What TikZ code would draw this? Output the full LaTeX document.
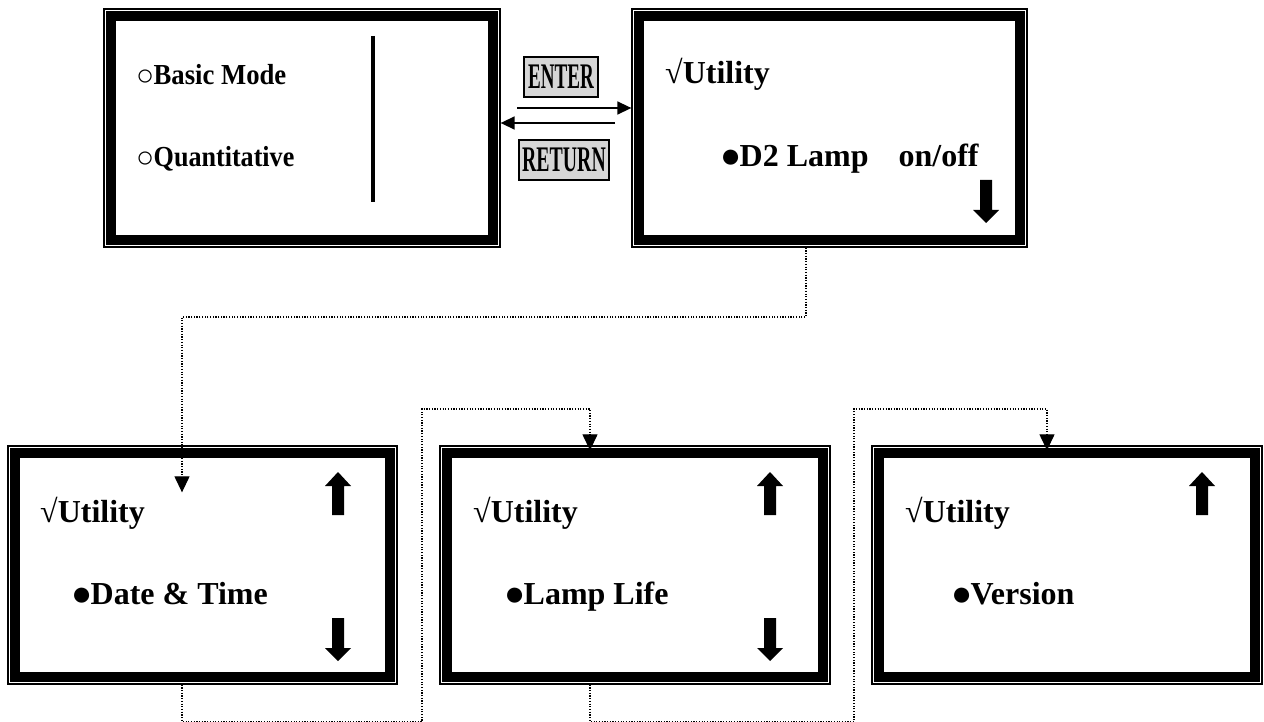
\documentclass[tikz,border=0pt]{standalone}
\usepackage{fontspec}
\setmainfont{Liberation Serif}
\usetikzlibrary{arrows.meta}
\newcommand{\UpBlk}[2]{\fill (#1,#2) -- ++(13,14) -- ++(-7,0) -- ++(0,29) -- ++(-12,0) -- ++(0,-29) -- ++(-7,0) -- cycle;}
\newcommand{\DnBlk}[2]{\fill (#1,#2) -- ++(13,-13) -- ++(-7,0) -- ++(0,-30) -- ++(-12,0) -- ++(0,30) -- ++(-7,0) -- cycle;}
\newcommand{\Bul}{\makebox[19.5pt][l]{\fontsize{35}{35}\selectfont\raisebox{-1pt}{●}}}
\newcommand{\Ring}{\makebox[17.5pt][l]{\fontsize{30}{30}\selectfont\raisebox{-1pt}{○}}}
\begin{document}
\begin{tikzpicture}[x=1pt,y=-1pt,
  screen/.style={draw, line width=1.3pt, minimum height=238pt, inner sep=0pt},
  band/.style={line width=9.5pt},
  lbl/.style={anchor=base west, inner sep=0pt, font=\bfseries\fontsize{32}{32}\selectfont},
  lblsmall/.style={anchor=base west, inner sep=0pt, font=\bfseries\fontsize{29}{29}\selectfont},
  key/.style={draw, line width=1.5pt, fill=black!16, inner sep=0pt, minimum height=40pt, font=\bfseries\fontsize{36}{36}\selectfont},
  link/.style={line width=1.5pt, -{Triangle[length=14pt,width=13pt]}},
  dotlink/.style={line width=1.2pt, dash pattern=on 1.2pt off 1.5pt, -{Triangle[length=16pt,width=15pt]}},
  ]
\useasboundingbox[fill=white] (0,0) rectangle (1264,722);

% screens
\node[screen, minimum width=396pt] (b1) at (302,128) {};
\node[screen, minimum width=395pt] (b2) at (829.5,128) {};
\node[screen, minimum width=389pt] (b3) at (202.5,565) {};
\node[screen, minimum width=390pt] (b4) at (635,565) {};
\node[screen, minimum width=390pt] (b5) at (1067,565) {};
\foreach \b in {b1,b2,b3,b4,b5}{
  \draw[band] ([shift={(7.5,7.5)}]\b.north west) rectangle ([shift={(-7.5,-7.5)}]\b.south east);
}

% screen 1
\node[lblsmall] (m1) at (136,85) {\Ring\scalebox{0.92}[1]{Basic Mode}};
\node[lblsmall] (m2) at (136,167) {\Ring\scalebox{0.9}[1]{Quantitative}};
\draw[line width=3.5pt] (373,36) -- (373,202);

% keys
\node[key, minimum width=74pt] (enter) at (561,77) {\scalebox{0.53}[1]{ENTER}};
\node[key, minimum width=90pt] (return) at (564,160) {\scalebox{0.55}[1]{RETURN}};
\coordinate (e0) at (517,108);
\coordinate (r0) at (615,123);
\draw[link] (e0) -- (e0 -| b2.west);
\draw[link] (r0) -- (r0 -| b1.east);

% screen 2
\node[lbl] (u2) at (665,84) {√Utility};
\node[lbl] (d2) at (720,167) {\Bul D2 Lamp\hspace{30pt}on/off};
\DnBlk{986}{223}

% screen 3
\node[lbl] (u3) at (40,522) {√Utility};
\node[lbl] (i3) at (71,604) {\Bul Date \& Time};
\UpBlk{338}{472}
\DnBlk{338}{661}

% screen 4
\node[lbl] (u4) at (473,522) {√Utility};
\node[lbl] (i4) at (504,604) {\Bul Lamp Life};
\UpBlk{770}{472}
\DnBlk{770}{661}

% screen 5
\node[lbl] (u5) at (905,522) {√Utility};
\node[lbl] (i5) at (951,604) {\Bul Version};
\UpBlk{1202}{472}

% dotted links
\draw[dotlink] ([xshift=-23.5pt]b2.south) |- (182,317) -- ([xshift=-20.5pt,yshift=-47pt]b3.north);
\draw[dotlink] ([xshift=-20.5pt]b3.south) -- ++(0,37) -| (422,409) -| ([xshift=-45pt,yshift=-5pt]b4.north);
\draw[dotlink] ([xshift=-45pt]b4.south) -- ++(0,37) -| (854,409) -| ([xshift=-20pt,yshift=-5pt]b5.north);
\end{tikzpicture}
\end{document}
